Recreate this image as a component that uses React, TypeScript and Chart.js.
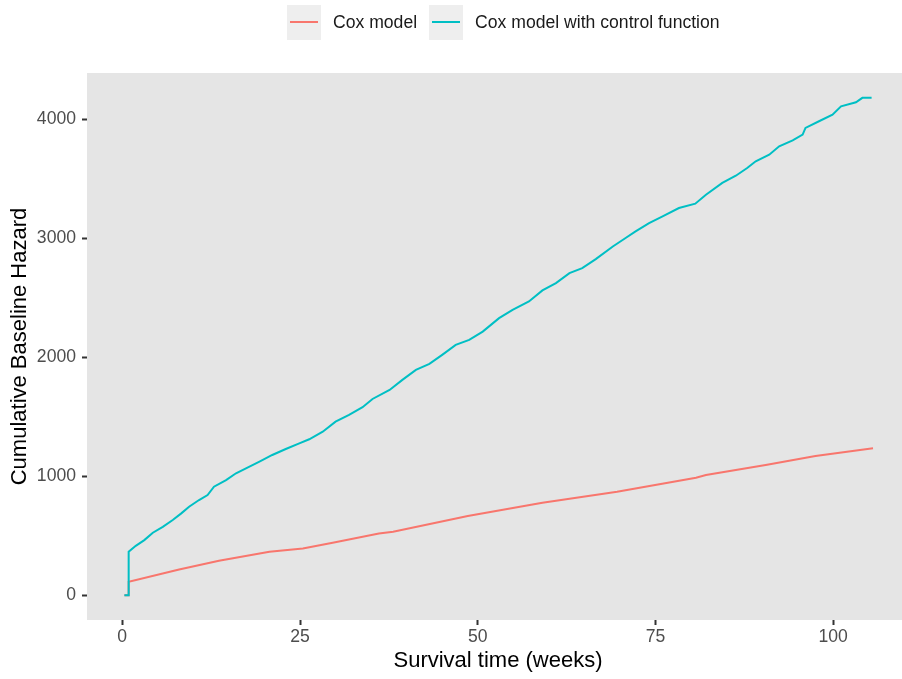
import React, { useEffect, useRef } from "react";
import { Chart, registerables } from "chart.js";

Chart.register(...registerables);

// ---- data ----
const seriesLabels = ["Cox model", "Cox model with control function"];
const seriesColors = ["#F8766D", "#00BFC4"];

const coxX = [0.3, 0.9, 0.9, 8.0, 13.6, 20.7, 25.4, 29.6, 36.1, 38.1, 48.6, 59.1, 69.6, 80.7, 82.1, 90.5, 97.5, 105.6];
const coxY = [0, 0, 112, 216, 290, 365, 393, 441, 519, 533, 665, 777, 870, 988, 1010, 1095, 1170, 1235];

const ctrlX = [
  0.3, 0.9, 0.9, 1.9, 3.1, 4.3, 5.7, 7.1, 8.3, 9.4, 10.8, 12.0, 12.9, 14.6, 16.0, 17.4, 19.3, 21.1, 23.0, 24.9,
  26.3, 28.2, 30.0, 31.9, 33.8, 35.2, 37.6, 39.4, 41.3, 43.2, 45.0, 46.9, 48.8, 50.7, 53.0, 54.9, 57.2, 59.1,
  61.0, 62.9, 64.7, 66.6, 69.0, 70.8, 72.2, 74.1, 76.0, 78.3, 80.6, 82.1, 84.4, 86.3, 87.9, 89.1, 91.0, 92.4,
  94.3, 95.7, 96.1, 98.0, 99.9, 101.1, 103.2, 104.1, 105.4,
];
const ctrlY = [
  0, 0, 365, 415, 463, 525, 575, 632, 688, 744, 800, 842, 912, 968, 1025, 1067, 1123, 1179, 1229, 1277,
  1311, 1375, 1459, 1516, 1581, 1650, 1726, 1811, 1895, 1945, 2021, 2105, 2147, 2217, 2330, 2400, 2470, 2563,
  2625, 2709, 2751, 2827, 2933, 3004, 3060, 3130, 3186, 3256, 3293, 3368, 3467, 3528, 3593, 3649, 3705, 3775,
  3826, 3874, 3930, 3986, 4042, 4112, 4146, 4183, 4183,
];

const xTicks = [0, 25, 50, 75, 100];
const yTicks = [0, 1000, 2000, 3000, 4000];

const xTitle = "Survival time (weeks)";
const yTitle = "Cumulative Baseline Hazard";

const FONT = "'Liberation Sans', Arial, Helvetica, sans-serif";
const CANVAS_W = 910;
const CANVAS_H = 679;

const panelBg = {
  id: "panelBg",
  beforeDraw(chart: any) {
    const { ctx, chartArea: a } = chart;
    ctx.save();
    ctx.fillStyle = "#E5E5E5";
    ctx.fillRect(a.left, a.top, a.right - a.left, a.bottom - a.top);
    ctx.restore();
  },
};

export default function App() {
  const canvasRef = useRef<HTMLCanvasElement | null>(null);

  useEffect(() => {
    if (!canvasRef.current) return;
    const toPts = (xs: number[], ys: number[]) => xs.map((x, i) => ({ x, y: ys[i] }));
    const chart = new Chart(canvasRef.current, {
      type: "line",
      data: {
        datasets: [
          {
            label: seriesLabels[0],
            data: toPts(coxX, coxY),
            borderColor: seriesColors[0],
            backgroundColor: seriesColors[0],
            borderWidth: 2,
            pointRadius: 0,
            tension: 0,
            fill: false,
            order: 2,
          },
          {
            label: seriesLabels[1],
            data: toPts(ctrlX, ctrlY),
            borderColor: seriesColors[1],
            backgroundColor: seriesColors[1],
            borderWidth: 2,
            pointRadius: 0,
            tension: 0,
            fill: false,
            order: 1,
          },
        ],
      },
      options: {
        animation: false,
        responsive: false,
        devicePixelRatio: 1,
        layout: { padding: { top: 73, right: 1, left: 0, bottom: 0 } },
        plugins: {
          legend: { display: false },
          tooltip: { enabled: false },
        },
        events: [],
        scales: {
          x: {
            type: "linear",
            min: -4.96,
            max: 110.66,
            afterBuildTicks: (s: any) => {
              s.ticks = xTicks.map((v) => ({ value: v }));
            },
            afterFit: (s: any) => {
              s.height = 59;
            },
            border: { display: false },
            grid: {
              drawOnChartArea: false,
              drawTicks: true,
              tickLength: 5,
              tickColor: "#333333",
              tickWidth: 2,
            },
            ticks: {
              color: "#4D4D4D",
              font: { family: FONT, size: 17.6 },
              padding: 2,
              maxRotation: 0,
              autoSkip: false,
              callback: (v: any) => String(v),
            },
            title: {
              display: true,
              text: xTitle,
              color: "#000000",
              font: { family: FONT, size: 22 },
              padding: { top: 0, bottom: 5 },
            },
          },
          y: {
            type: "linear",
            min: -209,
            max: 4392,
            afterBuildTicks: (s: any) => {
              s.ticks = yTicks.map((v) => ({ value: v }));
            },
            afterFit: (s: any) => {
              s.width = 87;
            },
            border: { display: false },
            grid: {
              drawOnChartArea: false,
              drawTicks: true,
              tickLength: 5,
              tickColor: "#333333",
              tickWidth: 2,
            },
            ticks: {
              color: "#4D4D4D",
              font: { family: FONT, size: 17.6 },
              padding: 6,
              autoSkip: false,
              callback: (v: any) => String(v),
            },
            title: {
              display: true,
              text: yTitle,
              color: "#000000",
              font: { family: FONT, size: 22 },
              padding: { top: 7, bottom: 0 },
            },
          },
        },
      } as any,
      plugins: [panelBg],
    });
    return () => chart.destroy();
  }, []);

  return (
    <div style={{ position: "fixed", left: 0, top: 0, width: 902, height: 679, overflow: "hidden", background: "#FFFFFF" }}>
      <div style={{ position: "absolute", left: 0, top: 0, width: CANVAS_W, height: CANVAS_H }}>
        <canvas
          ref={canvasRef}
          width={CANVAS_W}
          height={CANVAS_H}
          style={{ width: CANVAS_W, height: CANVAS_H, display: "block" }}
        />
        <div
          style={{
            position: "absolute",
            left: 287,
            top: 5,
            height: 35,
            display: "flex",
            alignItems: "center",
            fontFamily: FONT,
            fontSize: "17.6px",
            color: "#1A1A1A",
            whiteSpace: "nowrap",
          }}
        >
          {seriesLabels.map((lab, i) => (
            <React.Fragment key={lab}>
              <div style={{ position: "relative", width: 34, height: 35, background: "#EEEEEE", flex: "none" }}>
                <div
                  style={{
                    position: "absolute",
                    left: 3,
                    right: 3,
                    top: 16,
                    height: 2,
                    background: seriesColors[i],
                  }}
                />
              </div>
              <span style={{ marginLeft: 12, marginRight: 12, lineHeight: "35px" }}>{lab}</span>
            </React.Fragment>
          ))}
        </div>
      </div>
    </div>
  );
}
